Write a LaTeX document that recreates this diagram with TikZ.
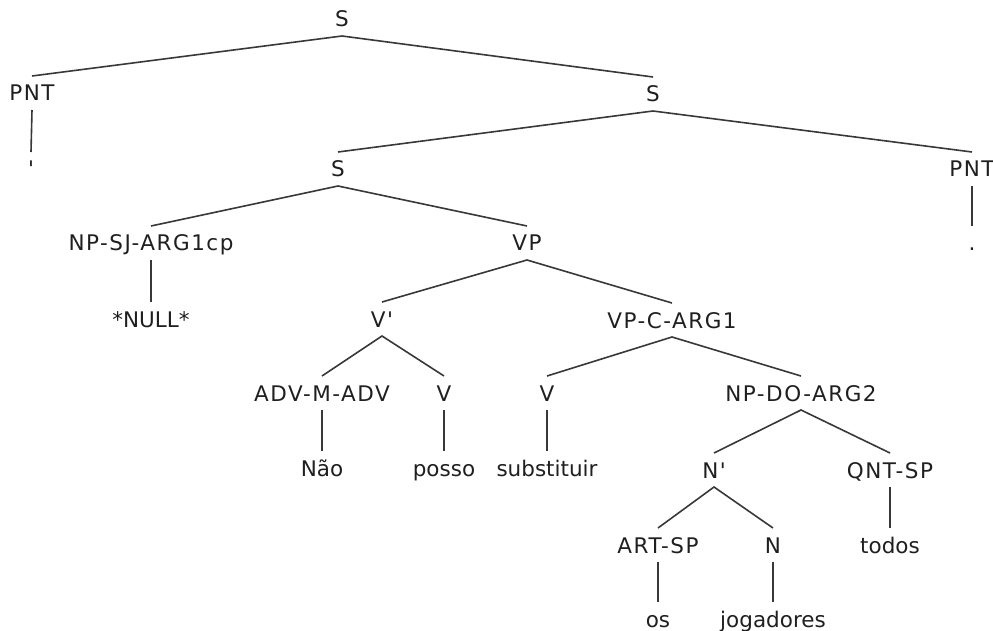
\documentclass[tikz,border=0pt]{standalone}
\usepackage{fontspec}
\newfontfamily\treefont{DejaVu Sans}
\newfontfamily\tagfont{DejaVu Sans}[LetterSpace=7]
\begin{document}
\begin{tikzpicture}[x=1pt,y=-1pt,
  lbl/.style={font=\treefont\fontsize{21.5}{24}\selectfont, text=black!88,
    inner sep=0pt, outer sep=0pt, text height=16pt, text depth=0pt,
    minimum height=34pt},
  tag/.style={lbl, font=\tagfont\fontsize{21.5}{24}\selectfont},
  edge/.style={draw=black!78, line width=1.6pt}]
\useasboundingbox (0,0) rectangle (993,631);

% phrase nodes
\node[tag] (s1)    at (342,19)  {S};
\node[tag] (pntA)  at (32,93)   {PNT};
\node[lbl] (quo)   at (31,169)  {'};
\node[tag] (s2)    at (653,94)  {S};
\node[tag] (s3)    at (338,169) {S};
\node[tag] (pntB)  at (972,169) {PNT};
\node[lbl] (dot)   at (972,243) {.};
\node[tag] (npsj)  at (151,243) {NP-SJ-ARG1cp};
\node[tag] (vp)    at (527,243) {VP};
\node[lbl] (null)  at (151,319) {*NULL*};
\node[tag] (vbar)  at (382,319) {V'};
\node[tag] (vpc)   at (672,320) {VP-C-ARG1};
\node[tag] (adv)   at (322,393) {ADV-M-ADV};
\node[tag] (va)    at (444,393) {V};
\node[tag] (vb)    at (547,393) {V};
\node[tag] (npdo)  at (801,393) {NP-DO-ARG2};
\node[lbl] (nao)   at (322,468) {Não};
\node[lbl] (posso) at (444,468) {posso};
\node[lbl] (subst) at (547,468) {substituir};
\node[tag] (nbar)  at (714,470) {N'};
\node[tag] (qnt)   at (890,470) {QNT-SP};
\node[lbl] (todos) at (890,545) {todos};
\node[tag] (art)   at (658,545) {ART-SP};
\node[tag] (n)     at (773,545) {N};
\node[lbl] (os)    at (658,619) {os};
\node[lbl] (jog)   at (773,619) {jogadores};

% branches
\draw[edge] (pntA.north) -- (s1.south) -- (s2.north);
\draw[edge] (pntA.south) -- (quo.north);
\draw[edge] (s3.north) -- (s2.south) -- (pntB.north);
\draw[edge] (pntB.south) -- (dot.north);
\draw[edge] (npsj.north) -- (s3.south) -- (vp.north);
\draw[edge] (npsj.south) -- (null.north);
\draw[edge] (vbar.north) -- (vp.south) -- (vpc.north);
\draw[edge] (adv.north) -- (vbar.south) -- (va.north);
\draw[edge] (adv.south) -- (nao.north);
\draw[edge] (va.south) -- (posso.north);
\draw[edge] (vb.north) -- (vpc.south) -- (npdo.north);
\draw[edge] (vb.south) -- (subst.north);
\draw[edge] (nbar.north) -- (npdo.south) -- (qnt.north);
\draw[edge] (qnt.south) -- (todos.north);
\draw[edge] (art.north) -- (nbar.south) -- (n.north);
\draw[edge] (art.south) -- (os.north);
\draw[edge] (n.south) -- (jog.north);
\end{tikzpicture}
\end{document}
